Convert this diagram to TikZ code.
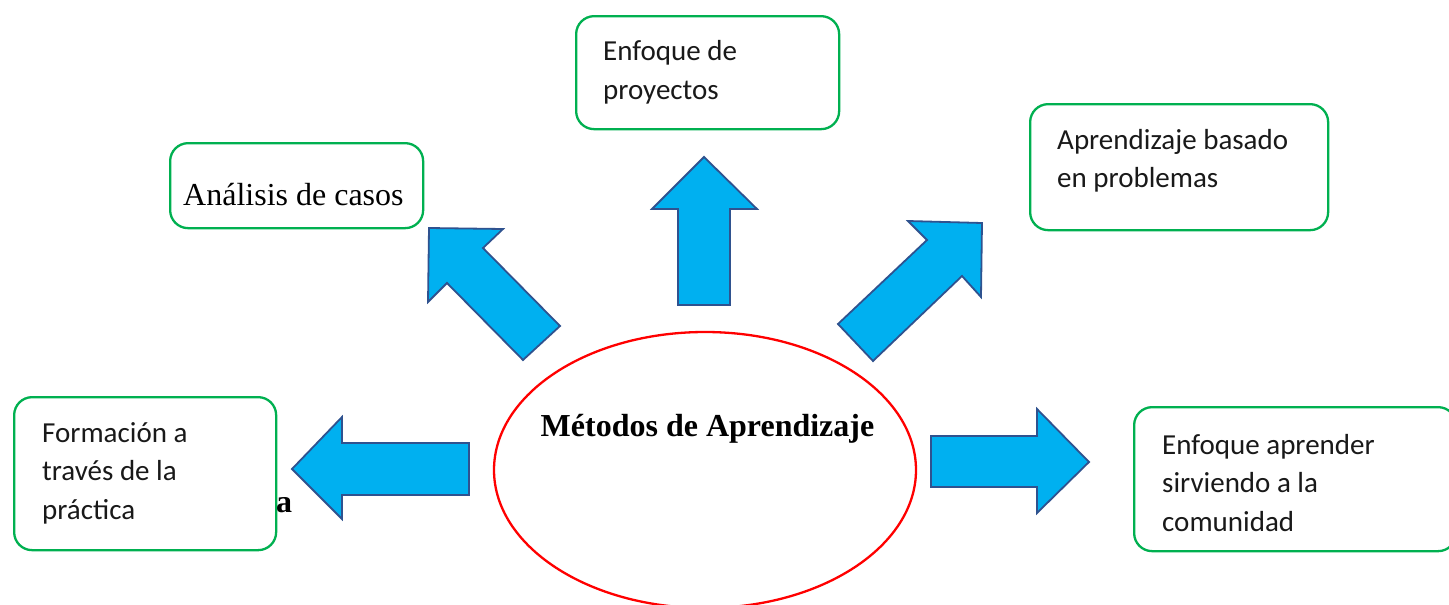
\documentclass[tikz,border=0pt]{standalone}
\usepackage{fontspec}
\setmainfont{Liberation Serif}
\newfontfamily\boxfont{Carlito}
\usetikzlibrary{shapes.geometric}
\definecolor{arrfill}{HTML}{00B0F0}
\definecolor{arrline}{HTML}{2F528F}
\definecolor{boxgreen}{HTML}{00B050}
\definecolor{ellred}{HTML}{FF0000}
\tikzset{
  gbox/.style={draw=boxgreen, line width=2.3pt, rounded corners=18pt, fill=white, inner sep=0pt, anchor=north west},
  boxtext/.style={font=\boxfont\fontsize{29}{38.5}\selectfont, align=left, inner sep=0pt, anchor=base west, text=black!90},
  seriftext/.style={font=\fontsize{32}{38}\selectfont, inner sep=0pt, anchor=base west},
  blockarrow/.style={fill=arrfill, draw=arrline, line width=1.8pt, line join=miter}
}
\begin{document}
\begin{tikzpicture}[x=1pt,y=-1pt]
\fill[white] (0,0) rectangle (1449,605);
\clip (0,0) rectangle (1449,605);
% boxes
\node[gbox, minimum width=263pt, minimum height=113pt] (b1) at (575,15) {};
\node[gbox, minimum width=253pt, minimum height=85pt] (b2) at (169,142) {};
\node[gbox, minimum width=298pt, minimum height=126pt] (b3) at (1029,103) {};
\node[gbox, minimum width=262pt, minimum height=153pt] (b4) at (13,396) {};
\node[gbox, minimum width=322pt, minimum height=144pt] (b5) at (1133,406) {};
% texts (base anchor = baseline of the last line)
\node[boxtext] (t1) at (603,99) {Enfoque de\\proyectos};
\node[seriftext] (t2) at (183,205) {Análisis de casos};
\node[boxtext] (t3) at (1057,187.5) {Aprendizaje basado\\en problemas};
\node[boxtext] (t4) at (42,519) {Formación a\\través de la\\práctica};
\node[boxtext] (t5) at (1162,531) {Enfoque aprender\\sirviendo a la\\comunidad};
\node[seriftext, font=\bfseries\fontsize{32}{38}\selectfont] (stray) at (276,512) {a};
% arrows
\filldraw[blockarrow] (704,157) -- (757,209) -- (730,209) -- (730,305) -- (678,305) -- (678,209) -- (652,209) -- cycle;
\filldraw[blockarrow] (292,469) -- (342,417) -- (342,443) -- (469,443) -- (469,495) -- (342,495) -- (342,519) -- cycle;
\filldraw[blockarrow] (1089,462) -- (1037,409) -- (1037,436) -- (931,436) -- (931,487) -- (1037,487) -- (1037,513) -- cycle;
\filldraw[blockarrow] (429,228) -- (503,229) -- (483,248) -- (560,326) -- (523,360) -- (447,283) -- (428,302) -- cycle;
\filldraw[blockarrow] (982,223) -- (908,221) -- (927,240) -- (838,324) -- (873,361) -- (962,276) -- (981,297) -- cycle;
% ellipse
\node[draw=ellred, line width=2.3pt, ellipse, minimum width=422pt, minimum height=276pt, inner sep=0pt] (ell) at (705,470) {};
\node[font=\bfseries\fontsize{32}{38}\selectfont, inner sep=0pt, anchor=base] (title) at (707.5,436) {Métodos de Aprendizaje};
\end{tikzpicture}
\end{document}
